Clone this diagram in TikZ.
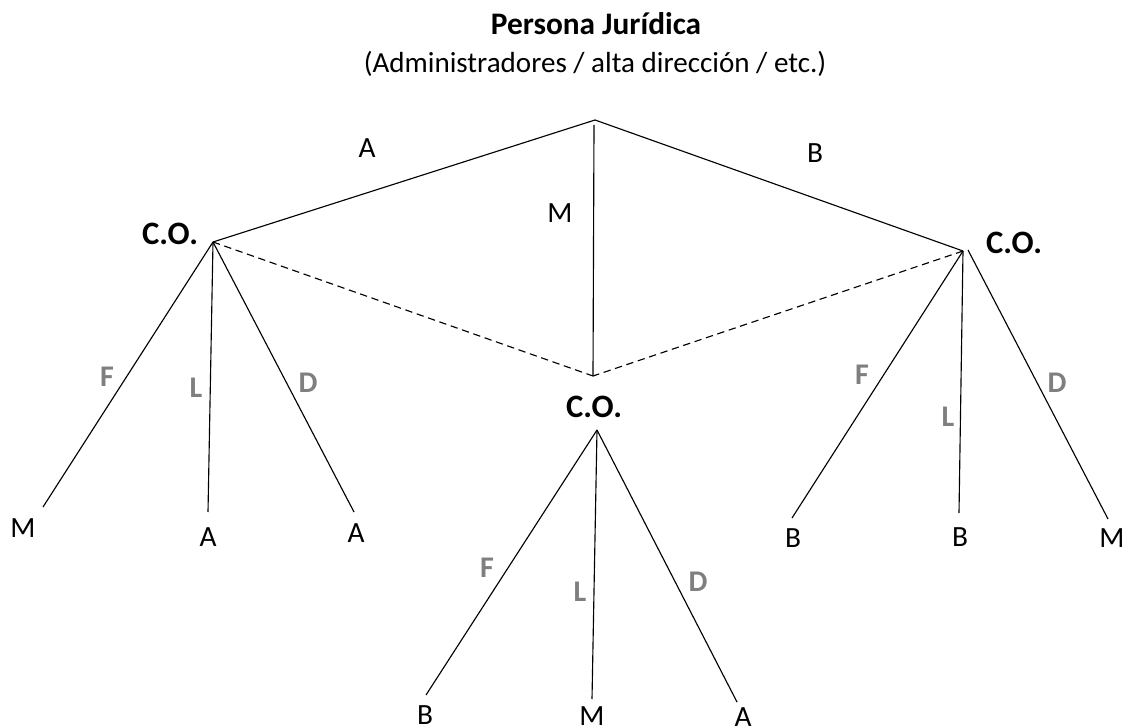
\documentclass[tikz,border=0pt]{standalone}
\usepackage{fontspec}
\setmainfont{Carlito}
\definecolor{lblgray}{HTML}{7F7F7F}
\begin{document}
\begin{tikzpicture}[x=0.75pt,y=-0.75pt,
  conn/.style={line width=0.85pt, black},
  dconn/.style={line width=0.85pt, black, dash pattern=on 5.5pt off 3.5pt},
  txt/.style={font=\fontsize{22}{26}\selectfont, inner sep=0pt},
  co/.style={font=\fontsize{24.5}{28}\selectfont\bfseries, inner sep=0pt},
  rel/.style={font=\fontsize{22.5}{26}\selectfont\bfseries, text=lblgray, inner sep=0pt}]
\useasboundingbox (0,0) rectangle (1128,727);
% titles
\node[font=\fontsize{23.5}{27}\selectfont\bfseries, anchor=base, inner sep=0pt] (title) at (596,35) {Persona Jurídica};
\node[font=\fontsize{21.8}{26}\selectfont, anchor=base, inner sep=0pt] (subtitle) at (595,73) {(Administradores / alta dirección / etc.)};
% junction points
\coordinate (root) at (595,120);
\coordinate (rootm) at (594,125);
\coordinate (jl) at (213,242);
\coordinate (jr) at (963,251);
\coordinate (jm) at (593,376);
\coordinate (jmc) at (597,430);
% C.O. labels
\node[co] (col) at (170,234) {C.O.};
\node[co] (cor) at (1014,243) {C.O.};
\node[co] (com) at (594,407) {C.O.};
% top edges
\draw[conn] (root) -- (jl);
\draw[conn] (root) -- (jr);
\draw[conn] (rootm) -- (jm);
\draw[dconn] (jl) -- (jm);
\draw[dconn] (jr) -- (jm);
\node[txt] (la) at (367,148) {A};
\node[txt] (lm) at (560,213) {M};
\node[txt] (lb) at (815,153) {B};
% left subtree
\coordinate (l1) at (43,507);
\coordinate (l2) at (208,512);
\coordinate (l3) at (354,512);
\draw[conn] (jl) -- (l1);
\draw[conn] (jl) -- (l2);
\draw[conn] (jl) -- (l3);
\node[rel] (lf) at (107,377) {F};
\node[rel] (ll) at (196,388) {L};
\node[rel] (ld) at (308,383) {D};
\node[txt] (lt1) at (23,528) {M};
\node[txt] (lt2) at (208,537) {A};
\node[txt] (lt3) at (356,533) {A};
% right subtree
\coordinate (r1) at (792,518);
\coordinate (r2) at (959,513);
\coordinate (r3) at (1108,519);
\draw[conn] (jr) -- (r1);
\draw[conn] (jr) -- (r2);
\draw[conn] (968,250) -- (r3);
\node[rel] (rf) at (862,375) {F};
\node[rel] (rl) at (948,417) {L};
\node[rel] (rd) at (1057,383) {D};
\node[txt] (rt1) at (793,538) {B};
\node[txt] (rt2) at (960,537) {B};
\node[txt] (rt3) at (1112,538) {M};
% middle subtree
\coordinate (m1) at (426,695);
\coordinate (m2) at (592,699);
\coordinate (m3) at (737,702);
\draw[conn] (jmc) -- (m1);
\draw[conn] (jmc) -- (m2);
\draw[conn] (jmc) -- (m3);
\node[rel] (mf) at (487,568) {F};
\node[rel] (ml) at (580,592) {L};
\node[rel] (md) at (698,582) {D};
\node[txt] (mt1) at (425,715) {B};
\node[txt] (mt2) at (592,716) {M};
\node[txt] (mt3) at (743,717) {A};
\end{tikzpicture}
\end{document}
